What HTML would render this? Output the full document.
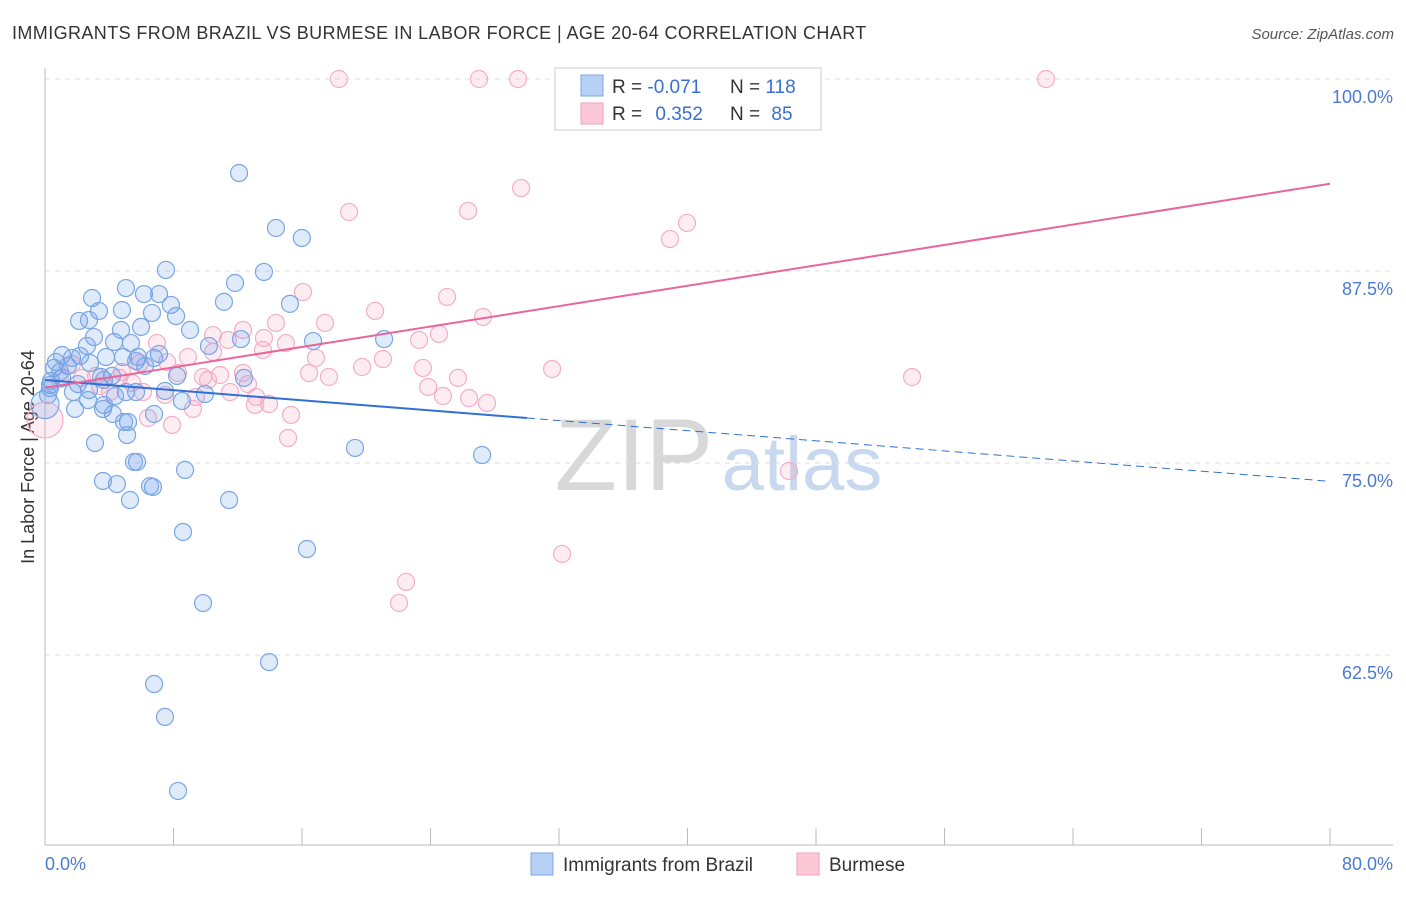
<!DOCTYPE html>
<html><head><meta charset="utf-8"><style>
body{margin:0;background:#fff;font-family:"Liberation Sans",sans-serif}
svg text{font-family:"Liberation Sans",sans-serif}
</style></head><body>
<svg id="c" width="1406" height="892" xmlns="http://www.w3.org/2000/svg">
<text x="12" y="39" font-size="18" fill="#333" letter-spacing="0.4">IMMIGRANTS FROM BRAZIL VS BURMESE IN LABOR FORCE | AGE 20-64 CORRELATION CHART</text>
<text x="1394" y="39" font-size="15" fill="#555" font-style="italic" text-anchor="end">Source: ZipAtlas.com</text>
<text x="34" y="457" font-size="18" fill="#333" text-anchor="middle" transform="rotate(-90 34 457)">In Labor Force | Age 20-64</text>
<g><text x="634" y="490" font-size="102" fill="#d8d8d8" font-family="Liberation Serif" text-anchor="middle">ZIP</text><text x="802" y="490" font-size="76" fill="#c8d8ee" text-anchor="middle">atlas</text></g>
<g id="grid"></g><g id="axes"></g><g id="pts"></g><g id="trend"></g>
<g>
<rect x="555" y="68" width="266" height="62" fill="#fff" stroke="#ccc"/>
<rect x="581" y="75" width="22" height="21" fill="#b7d1f5" stroke="#7ba4e0"/>
<rect x="581" y="103" width="22" height="21" fill="#fcc8d8" stroke="#f0a0bc"/>
<text x="612" y="93" font-size="19" fill="#333">R = <tspan fill="#3a6fd0">-0.071</tspan></text>
<text x="730" y="93" font-size="19" fill="#333">N = <tspan fill="#3a6fd0">118</tspan></text>
<text x="612" y="120" font-size="19" fill="#333">R = <tspan fill="#3a6fd0" dx="8">0.352</tspan></text>
<text x="730" y="120" font-size="19" fill="#333">N = <tspan fill="#3a6fd0" dx="6">85</tspan></text>
</g>
<g>
<rect x="531" y="853" width="22" height="22" fill="#b7d1f5" stroke="#7ba4e0"/>
<text x="563" y="871" font-size="19" fill="#333">Immigrants from Brazil</text>
<rect x="797" y="853" width="22" height="22" fill="#fcc8d8" stroke="#f0a0bc"/>
<text x="829" y="871" font-size="19" fill="#333">Burmese</text>
</g>
</svg>
<script>
const xTicksPct=[0,80];
const yTicks=[100,87.5,75,62.5];
const blueX=[12.08,14.38,15.99,7.53,13.63,11.83,11.14,15.25,2.93,5.04,6.16,7.10,7.84,4.79,3.36,2.12,2.74,8.16,6.66,9.03,4.73,5.98,3.05,4.30,2.61,5.35,21.11,16.69,12.20,10.21,1.06,1.68,2.18,3.80,4.86,5.79,7.10,6.79,5.67,0.68,0.56,1.43,2.80,6.23,8.22,4.17,3.49,1.06,0.37,0.31,2.05,2.74,3.67,1.74,5.04,5.67,7.47,9.96,8.53,4.36,3.67,2.68,1.87,3.61,4.23,5.17,6.79,5.11,4.92,12.39,3.11,5.73,5.54,8.72,19.30,27.21,3.61,4.48,6.54,6.72,5.29,11.46,8.59,16.31,9.84,13.95,6.79,7.47,8.28,0.31,0.93,0.19];
const blueY=[93.88,90.3,89.65,87.57,87.44,86.72,85.49,85.36,85.74,86.39,86.0,86.0,85.29,84.96,84.9,84.25,84.31,84.57,84.77,83.66,83.66,83.86,83.2,82.88,82.62,82.81,83.07,82.94,83.07,82.62,82.03,81.84,81.97,81.90,81.90,81.90,82.10,81.84,81.64,81.58,81.19,81.32,81.51,81.32,80.67,80.67,80.60,80.54,80.34,79.88,80.14,79.75,80.41,79.62,79.62,79.62,79.69,79.49,79.04,79.36,78.78,79.10,78.52,78.52,78.19,77.67,78.19,76.82,77.67,80.54,76.30,75.07,75.07,74.55,75.98,75.52,73.83,73.63,73.50,73.44,72.59,72.59,70.51,69.40,65.88,62.04,60.61,58.47,53.65,80.08,80.93,79.43];
const pinkX=[18.30,27.02,29.45,62.32,38.04,29.64,18.93,26.34,39.97,38.91,16.06,25.03,20.55,27.27,14.38,17.43,12.33,10.46,24.53,13.63,23.29,11.39,15.0,13.57,6.97,8.90,10.46,19.74,21.04,16.87,23.53,31.57,53.98,17.68,5.91,7.60,8.28,9.84,10.90,12.33,16.44,25.71,23.85,4.61,5.42,12.64,24.78,26.40,27.52,13.14,13.95,13.07,11.52,9.40,7.47,6.10,4.05,4.79,3.18,2.30,0.93,6.41,7.91,9.21,15.32,15.13,46.32,32.19,22.48,22.04,1.68,3.42,10.15];
const pinkY=[100,100,100,100,97.53,92.90,91.34,91.41,90.63,89.58,86.13,85.81,84.90,84.51,84.12,84.12,83.66,83.33,83.40,83.14,83.01,83.01,82.81,82.36,82.81,81.90,82.23,81.25,81.77,81.84,81.19,81.12,80.60,80.60,81.51,81.58,80.86,80.60,80.73,80.86,80.86,80.54,79.95,80.54,80.21,80.14,79.36,79.23,78.91,79.30,78.84,78.78,79.62,79.30,79.43,79.62,79.62,80.93,80.67,80.54,80.47,77.93,77.48,78.52,78.13,76.63,74.48,69.08,67.26,65.89,81.45,80.01,80.41];
const bigBlue=[[0,78.8]];
const bigPink=[[0,77.8]];
const blueTrend=[80.4,-0.0824];
const pinkTrend=[79.9,0.166];
const NS='http://www.w3.org/2000/svg';
const X=v=>45+v/80*1285, Y=v=>79+(100-v)*15.36;
function mk(t,a,p){const e=document.createElementNS(NS,t);for(const k in a)e.setAttribute(k,a[k]);p.appendChild(e);return e;}
const grid=document.getElementById('grid'),axes=document.getElementById('axes'),pts=document.getElementById('pts'),tr=document.getElementById('trend');
yTicks.forEach(v=>{const l=mk('line',{x1:45,x2:1393,y1:Y(v),y2:Y(v),stroke:'#ddd','stroke-dasharray':'5,5'},grid);


const t=mk('text',{x:1393,y:Y(v)+24,'font-size':18,fill:'#4a7bd0','text-anchor':'end'},grid);t.textContent=v.toFixed(1)+'%';

});
mk('line',{x1:45,x2:45,y1:68,y2:845,stroke:'#bbb'},axes);
mk('line',{x1:45,x2:1393,y1:845,y2:845,stroke:'#bbb'},axes);
for(let i=1;i<=10;i++){const tk=mk('line',{x1:X(i*8),x2:X(i*8),y1:828,y2:845,stroke:'#bbb'},axes);

}
xTicksPct.forEach((v,i)=>{const t=mk('text',{x:i?1393:45,y:870,'font-size':18,fill:'#4a7bd0','text-anchor':i?'end':'start'},axes);t.textContent=v.toFixed(1)+'%';

});
function dot(x,y,r,blue){const c=mk('circle',{cx:X(x),cy:Y(y),r:r,fill:blue?'rgba(110,160,235,0.22)':'rgba(245,160,190,0.2)',stroke:blue?'#79a6e4':'#f3aec6','stroke-width':1.2},pts);

}
pinkX.forEach((x,i)=>dot(x,pinkY[i],8.5,false));
blueX.forEach((x,i)=>dot(x,blueY[i],8.5,true));
bigPink.forEach(p=>dot(p[0],p[1],18,false));
bigBlue.forEach(p=>dot(p[0],p[1],14,true));
const bl=mk('line',{x1:X(0),y1:Y(blueTrend[0]),x2:X(30),y2:Y(blueTrend[0]+30*blueTrend[1]),stroke:'#2f6fd6','stroke-width':2},tr);


const bd=mk('line',{x1:X(30),y1:Y(blueTrend[0]+30*blueTrend[1]),x2:X(80),y2:Y(blueTrend[0]+80*blueTrend[1]),stroke:'#2f6fd6','stroke-width':1,'stroke-dasharray':'8,5'},tr);


const pl=mk('line',{x1:X(0),y1:Y(pinkTrend[0]),x2:X(80),y2:Y(pinkTrend[0]+80*pinkTrend[1]),stroke:'#e8669a','stroke-width':2},tr);


</script>
</body></html>
